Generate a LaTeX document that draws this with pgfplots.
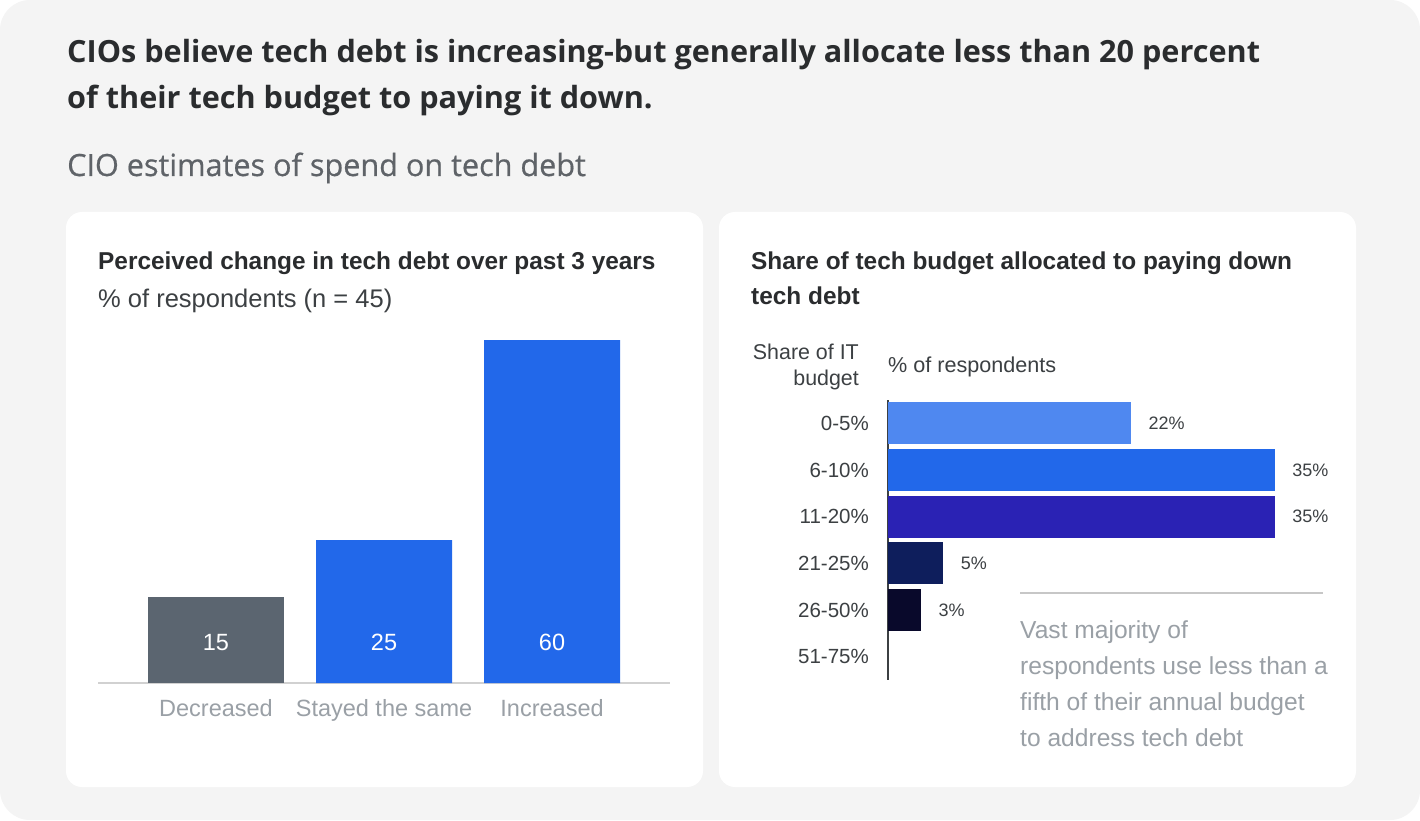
\documentclass[border=0pt]{standalone}
\usepackage{pgfplots}
\pgfplotsset{compat=1.18}
\usepackage{fontspec}
\setmainfont{Liberation Sans}
\newfontfamily\osans{Open Sans}
\newfontfamily\osmed[FakeBold=0.6]{Open Sans}
\definecolor{bg}{HTML}{F4F4F4}
\definecolor{titlec}{HTML}{2A2C2E}
\definecolor{subc}{HTML}{5F6368}
\definecolor{darkt}{HTML}{3C4043}
\definecolor{lightt}{HTML}{9AA0A6}
\definecolor{gbar}{HTML}{5B6570}
\definecolor{bbar}{HTML}{2268EA}
\definecolor{c1}{HTML}{4F88F0}
\definecolor{c3}{HTML}{2A22B4}
\definecolor{c4}{HTML}{0E1E5C}
\definecolor{c5}{HTML}{09092B}
\begin{document}
\begin{tikzpicture}
\fill[white] (0pt,0pt) rectangle (1420pt,820pt);
\fill[bg, rounded corners=30pt] (0pt,0pt) rectangle (1420pt,820pt);
\fill[white, rounded corners=16pt] (66pt,33pt) rectangle (703pt,608pt);
\fill[white, rounded corners=16pt] (719pt,33pt) rectangle (1356pt,608pt);
% titles
\node[anchor=base west, inner sep=0pt, text=titlec, font=\osans\fontsize{30.6}{35}\selectfont\bfseries] at (67pt,757pt) {CIOs believe tech debt is increasing-but generally allocate less than 20 percent};
\node[anchor=base west, inner sep=0pt, text=titlec, font=\osans\fontsize{30.6}{35}\selectfont\bfseries] at (67pt,711pt) {of their tech budget to paying it down.};
\node[anchor=base west, inner sep=0pt, text=subc, font=\osmed\fontsize{30.6}{34}\selectfont] at (67pt,644pt) {CIO estimates of spend on tech debt};
% left panel titles
\node[anchor=base west, inner sep=0pt, text=titlec, font=\fontsize{24.4}{28}\selectfont\bfseries] at (98pt,550pt) {Perceived change in tech debt over past 3 years};
\node[anchor=base west, inner sep=0pt, text=darkt, font=\fontsize{25.5}{28}\selectfont] at (98pt,512pt) {\% of respondents (n = 45)};
% right panel titles
\node[anchor=base west, inner sep=0pt, text=titlec, font=\fontsize{24.4}{28}\selectfont\bfseries] at (751pt,550pt) {Share of tech budget allocated to paying down};
\node[anchor=base west, inner sep=0pt, text=titlec, font=\fontsize{24.4}{28}\selectfont\bfseries] at (751pt,515pt) {tech debt};
\node[anchor=base east, inner sep=0pt, text=darkt, font=\fontsize{21.4}{23}\selectfont] at (859pt,460pt) {Share of IT};
\node[anchor=base east, inner sep=0pt, text=darkt, font=\fontsize{21.4}{23}\selectfont] at (859pt,434pt) {budget};
\node[anchor=base west, inner sep=0pt, text=darkt, font=\fontsize{21.6}{23}\selectfont] at (888pt,447pt) {\% of respondents};
% left chart
\begin{axis}[
  at={(98pt,137pt)}, anchor=south west,
  width=572pt, height=343pt, scale only axis,
  xmin=-0.702, xmax=2.702, ymin=0, ymax=60,
  axis x line=bottom, axis y line=none,
  x axis line style={draw=black!18, line width=1.2pt, -},
  xtick={0,1,2}, xticklabels={Decreased,Stayed the same,Increased},
  major tick length=0pt,
  xticklabel style={text=lightt, font=\fontsize{23.5}{26}\selectfont, inner sep=0pt, yshift=-16pt},
  ybar, bar width=136pt, bar shift=0pt,
  clip=false,
  /pgf/number format/assume math mode=true,
]
\addplot[fill=gbar, draw=none] coordinates {(0,15)};
\addplot[fill=bbar, draw=none] coordinates {(1,25) (2,60)};
\addplot[only marks, mark=none, point meta=explicit,
  nodes near coords, nodes near coords align={center},
  every node near coord/.style={text=white, font=\fontsize{23.5}{26}\selectfont, anchor=center}]
  coordinates {(0,7.1) [15] (1,7.1) [25] (2,7.1) [60]};
\end{axis}
% right chart
\begin{axis}[
  at={(888pt,140pt)}, anchor=south west,
  width=442pt, height=280pt, scale only axis,
  xmin=0, xmax=40, ymin=-0.5, ymax=5.5, y dir=reverse,
  axis y line=left, axis x line=none,
  y axis line style={draw=darkt, line width=1.8pt, -},
  ytick={0,1,2,3,4,5},
  yticklabels={0-5\%,6-10\%,11-20\%,21-25\%,26-50\%,51-75\%},
  major tick length=0pt,
  yticklabel style={text=darkt, font=\fontsize{20.5}{23}\selectfont, inner sep=0pt, xshift=-19pt},
  xbar, bar width=42pt, bar shift=0pt,
  clip=false,
  /pgf/number format/assume math mode=true,
  nodes near coords={\pgfmathprintnumber{\pgfplotspointmeta}\%},
  every node near coord/.style={text=darkt, font=\fontsize{18}{21}\selectfont, anchor=west, xshift=14pt},
]
\addplot[fill=c1, draw=none] coordinates {(22,0)};
\addplot[fill=bbar, draw=none] coordinates {(35,1)};
\addplot[fill=c3, draw=none] coordinates {(35,2)};
\addplot[fill=c4, draw=none] coordinates {(5,3)};
\addplot[fill=c5, draw=none] coordinates {(3,4)};
\end{axis}
% annotation
\draw[black!22, line width=1.2pt] (1020pt,227pt) -- (1323pt,227pt);
\node[anchor=base west, inner sep=0pt, text=lightt, font=\fontsize{24.6}{26}\selectfont] at (1020pt,182pt) {Vast majority of};
\node[anchor=base west, inner sep=0pt, text=lightt, font=\fontsize{24.6}{26}\selectfont] at (1020pt,146pt) {respondents use less than a};
\node[anchor=base west, inner sep=0pt, text=lightt, font=\fontsize{24.6}{26}\selectfont] at (1020pt,110pt) {fifth of their annual budget};
\node[anchor=base west, inner sep=0pt, text=lightt, font=\fontsize{24.6}{26}\selectfont] at (1020pt,74pt) {to address tech debt};
\end{tikzpicture}
\end{document}
